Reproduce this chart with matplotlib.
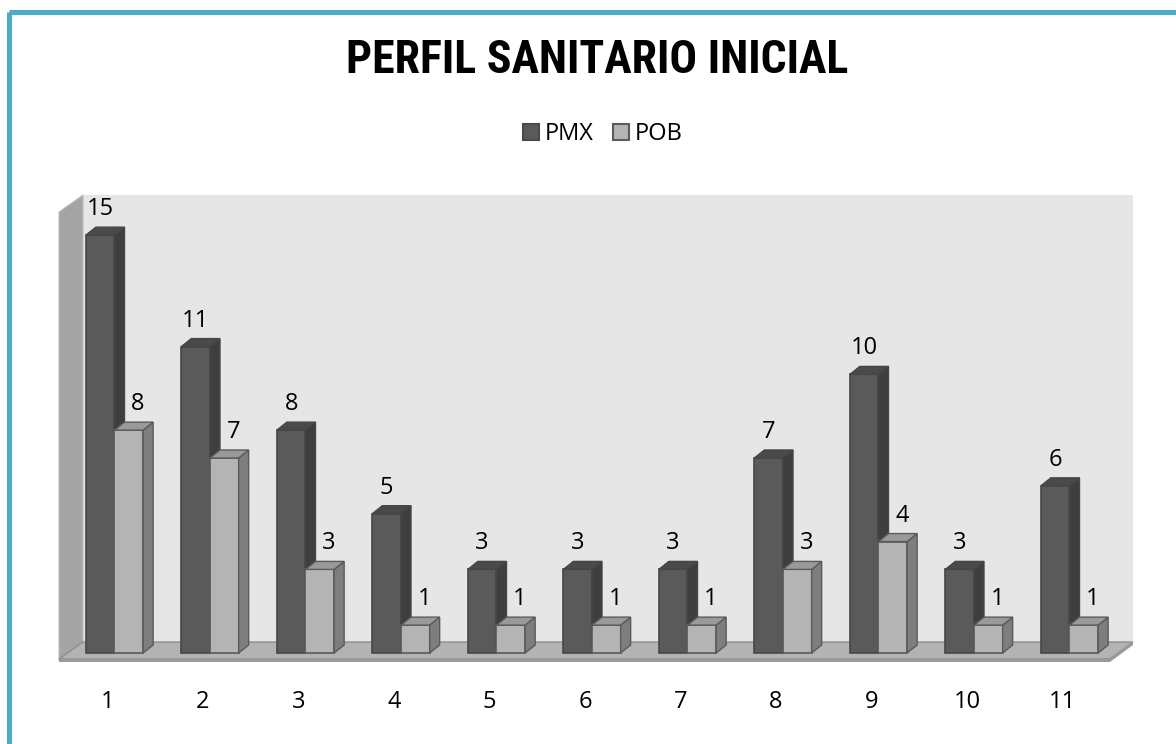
import matplotlib
matplotlib.use("Agg")
import matplotlib.pyplot as plt
from matplotlib.patches import Polygon, Rectangle, Patch
import numpy as np

# ---------------- data ----------------
categories = ["1", "2", "3", "4", "5", "6", "7", "8", "9", "10", "11"]
series_names = ["PMX", "POB"]
pmx = [15, 11, 8, 5, 3, 3, 3, 7, 10, 3, 6]
pob = [8, 7, 3, 1, 1, 1, 1, 3, 4, 1, 1]
title = "PERFIL SANITARIO INICIAL"

# ---------------- style ----------------
W, H = 1176, 744
FONT = ["Open Sans", "DejaVu Sans"]
TITLE_FONT = ["Liberation Sans Narrow", "Roboto Condensed", "Roboto", "DejaVu Sans"]
pmx_cols = dict(front="#5a5a5a", side="#3e3e3e", top="#4a4a4a", edge="#464646")
pob_cols = dict(front="#b4b4b4", side="#7e7e7e", top="#9a9a9a", edge="#5a5a5a")

fig = plt.figure(figsize=(W / 100, H / 100), dpi=100)
fig.patch.set_facecolor("white")

# background axes in pixel coordinates for frame / walls / floor
bg = fig.add_axes([0, 0, 1, 1])
bg.set_xlim(0, W)
bg.set_ylim(H, 0)
bg.axis("off")

# teal frame (top and left edges visible)
bg.add_patch(Rectangle((8.5, 12), W + 20, H + 20, fill=False,
                       edgecolor="#4bacc6", linewidth=3.6))

# back wall
bg.add_patch(Polygon([(83, 195), (1133, 195), (1133, 642), (83, 642)],
                     closed=True, facecolor="#e6e6e6", edgecolor="none"))
# left wall
bg.add_patch(Polygon([(59, 212), (83, 195), (83, 642), (59, 660)],
                     closed=True, facecolor="#a4a4a4", edgecolor="#bdbdbd", linewidth=0.8))
# floor
bg.add_patch(Polygon([(59, 659), (83, 642), (1133, 642), (1110, 659)],
                     closed=True, facecolor="#b3b3b3", edgecolor="#8e8e8e", linewidth=1.0))
bg.add_patch(Polygon([(59, 659), (1110, 659), (1110, 662), (59, 662)],
                     closed=True, facecolor="#9a9a9a", edgecolor="none"))
bg.add_patch(Polygon([(1110, 659), (1133, 642), (1133, 645), (1110, 662)],
                     closed=True, facecolor="#9a9a9a", edgecolor="none"))

# ---------------- data axes ----------------
ax_l, ax_r, ax_t, ax_b = 40, 1150, 180, 680
ax = fig.add_axes([ax_l / W, 1 - ax_b / H, (ax_r - ax_l) / W, (ax_b - ax_t) / H])
ax.patch.set_alpha(0)
ax.axis("off")
ax.set_xlim(-0.78, 10.843)
ax.set_ylim(-0.97, 16.98)

ux = (ax_r - ax_l) / (10.843 + 0.78)   # px per x unit
uy = (ax_b - ax_t) / (16.98 + 0.97)    # px per y unit
DX, DY = 10 / ux, 8 / uy               # bar depth in data units

x = np.arange(len(categories))
bw = 0.30


def bar3d(xc, vals, cols, z, lab_dx):
    ax.bar(xc, vals, width=bw, color=cols["front"], edgecolor=cols["edge"],
           linewidth=1.2, zorder=z)
    for xi, v in zip(xc, vals):
        x0, x1 = xi - bw / 2, xi + bw / 2
        side = Polygon([(x1, 0), (x1 + DX, DY), (x1 + DX, v + DY), (x1, v)],
                       closed=True, facecolor=cols["side"], edgecolor=cols["edge"],
                       linewidth=1.0, zorder=z + 0.1)
        top = Polygon([(x0, v), (x0 + DX, v + DY), (x1 + DX, v + DY), (x1, v)],
                      closed=True, facecolor=cols["top"], edgecolor=cols["edge"],
                      linewidth=1.0, zorder=z + 0.1)
        ax.add_patch(side)
        ax.add_patch(top)
        ax.annotate(f"{v}", (xi, v), xytext=(lab_dx, 20), textcoords="offset pixels",
                    ha="center", va="baseline", fontsize=17, family=FONT,
                    color="black", zorder=10)


bar3d(x - bw / 2, pmx, pmx_cols, 3, 0)
bar3d(x + bw / 2, pob, pob_cols, 4, 9)

for xi, lab in zip(x, categories):
    ax.annotate(lab, (xi, 0), xytext=(-7, -49), textcoords="offset pixels",
                ha="center", va="center", fontsize=17, family=FONT, color="black")

# title
fig.text(597 / W, 1 - 60 / H, title, ha="center", va="center", fontsize=33,
         fontweight="bold", fontstretch="condensed", family=TITLE_FONT, color="black")

# legend
handles = [Patch(facecolor=pmx_cols["front"], edgecolor="#4a4a4a", linewidth=1.5),
           Patch(facecolor=pob_cols["front"], edgecolor="#5a5a5a", linewidth=1.5)]
fig.legend(handles, series_names, loc="center", bbox_to_anchor=(603 / W, 1 - 134 / H),
           ncol=2, frameon=False, prop={"family": FONT, "size": 17},
           handlelength=0.68, handleheight=0.68, handletextpad=0.25,
           columnspacing=0.8, borderpad=0)

fig.savefig("out.png", dpi=100)
